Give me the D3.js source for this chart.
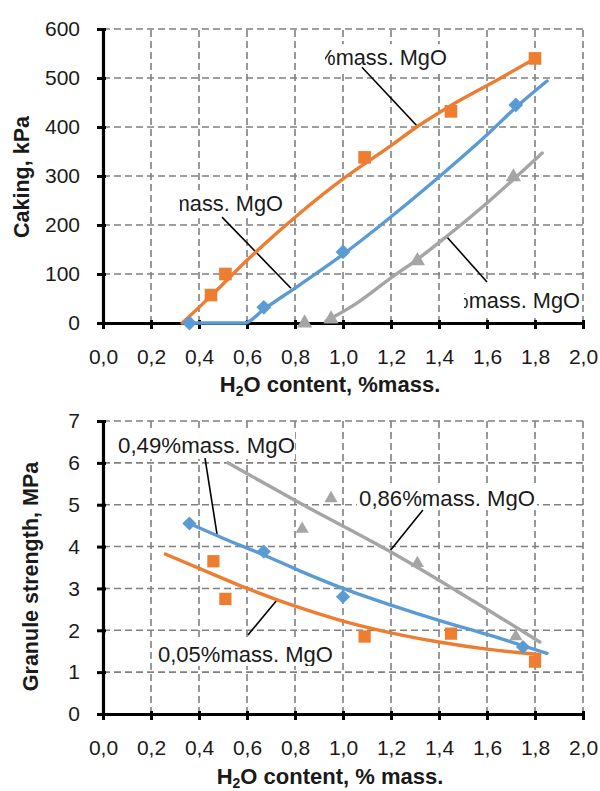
<!DOCTYPE html>
<html>
<head>
<meta charset="utf-8">
<script src="https://cdn.jsdelivr.net/npm/d3@7"></script>
<style>
  body { margin: 0; background: white; }
  text { font-family: "Liberation Sans", Arial, sans-serif; fill: #1a1a1a; }
</style>
</head>
<body>
<div id="chart"></div>
<script>
'use strict';

// ticks shared by both panels
const xTicks = [0, 0.2, 0.4, 0.6, 0.8, 1.0, 1.2, 1.4, 1.6, 1.8, 2.0];
const cakingTicks = [0, 100, 200, 300, 400, 500, 600];
const strengthTicks = [0, 1, 2, 3, 4, 5, 6, 7];

const mgoLabels = ['0,05%mass. MgO', '0,49%mass. MgO', '0,86%mass. MgO'];

// caking, kPa - measured points
const cakingX005 = [0.45, 0.51, 1.09, 1.45, 1.80];
const cakingY005 = [57, 100, 338, 432, 540];
const cakingX049 = [0.36, 0.67, 1.00, 1.72];
const cakingY049 = [0, 32, 145, 445];
const cakingX086 = [0.84, 0.95, 1.31, 1.71];
const cakingY086 = [0, 8, 127, 298];

// caking trend lines
const cakingTrend005 = [[0.33, 0], [0.46, 60], [0.6, 128], [0.82, 224], [1.0, 294],
  [1.2, 362], [1.31, 401], [1.45, 444], [1.65, 498], [1.8, 540]];
const cakingTrend049 = [[0.36, 0], [0.59, 0], [0.67, 28], [0.82, 78], [1.0, 140],
  [1.15, 197], [1.4, 298], [1.6, 384], [1.72, 440], [1.85, 494]];
const cakingTrend086 = [[0.93, 4], [1.05, 38], [1.2, 92], [1.31, 130], [1.43, 176],
  [1.6, 245], [1.71, 293], [1.83, 347]];

// granule strength, MPa - measured points
const strengthX005 = [0.46, 0.51, 1.09, 1.45, 1.80];
const strengthY005 = [3.65, 2.75, 1.85, 1.92, 1.25];
const strengthX049 = [0.36, 0.67, 1.00, 1.75];
const strengthY049 = [4.55, 3.88, 2.80, 1.60];
const strengthX086 = [0.83, 0.95, 1.31, 1.72];
const strengthY086 = [4.42, 5.15, 3.60, 1.85];

// granule strength trend lines
const strengthTrend005 = [[0.26, 3.82], [0.45, 3.36], [0.6, 3.0], [0.72, 2.74], [0.82, 2.54],
  [1.0, 2.22], [1.2, 1.94], [1.4, 1.72], [1.6, 1.55], [1.82, 1.42]];
const strengthTrend049 = [[0.36, 4.55], [0.5, 4.2], [0.67, 3.8], [0.82, 3.42], [1.0, 3.0],
  [1.2, 2.6], [1.42, 2.2], [1.6, 1.9], [1.85, 1.45]];
const strengthTrend086 = [[0.52, 6.0], [0.82, 5.04], [1.2, 3.87], [1.5, 2.85], [1.82, 1.72]];

const colors = ['#ED7D31', '#5B9BD5', '#A5A5A5'];
const shapes = ['square', 'diamond', 'triangle'];

const width = 600, height = 791;
const svg = d3.select('#chart').append('svg')
  .attr('width', width).attr('height', height);
svg.append('rect').attr('width', width).attr('height', height).attr('fill', 'white');

function zipPoints(xs, ys) {
  return xs.map((x, i) => [x, ys[i]]);
}

function fmtX(d) {
  return d.toFixed(1).replace('.', ',');
}

function markerPath(shape, size) {
  if (shape === 'triangle') return d3.symbol(d3.symbolTriangle, size)();
  return d3.symbol(d3.symbolSquare, size)();
}

let clipCount = 0;

function drawPanel(p) {
  const x = d3.scaleLinear().domain([0, 2]).range([103, 583]);
  const yMax = p.yTicks[p.yTicks.length - 1];
  const y = d3.scaleLinear().domain([0, yMax]).range([p.bottom, p.top]);
  const g = svg.append('g');

  // dashed grid, including the top and right border
  const grid = g.append('g')
    .attr('stroke', '#808080').attr('stroke-width', 1.6)
    .attr('stroke-dasharray', '7,4');
  grid.selectAll('line.v').data(xTicks.slice(1)).join('line').attr('class', 'v')
    .attr('x1', d => x(d)).attr('x2', d => x(d))
    .attr('y1', y(0)).attr('y2', y(yMax));
  grid.selectAll('line.h').data(p.yTicks.slice(1)).join('line').attr('class', 'h')
    .attr('x1', x(0)).attr('x2', x(2))
    .attr('y1', d => y(d)).attr('y2', d => y(d));

  // axes
  const yAxis = g.append('g').attr('transform', 'translate(' + x(0) + ',0)')
    .call(d3.axisLeft(y).tickValues(p.yTicks).tickFormat(d3.format('d'))
      .tickSize(6).tickSizeOuter(0).tickPadding(17));
  yAxis.selectAll('.tick line').attr('x1', 3);
  const xAxis = g.append('g').attr('transform', 'translate(0,' + y(0) + ')')
    .call(d3.axisBottom(x).tickValues(xTicks).tickFormat(fmtX)
      .tickSize(6).tickSizeOuter(0).tickPadding(20));
  xAxis.selectAll('.tick line').attr('y1', -3);
  [xAxis, yAxis].forEach(a => {
    a.select('.domain').attr('stroke', 'black').attr('stroke-width', 3.2);
    a.selectAll('.tick line').attr('stroke', 'black').attr('stroke-width', 3);
    a.selectAll('.tick text').attr('font-size', 21).attr('fill', '#1a1a1a')
      .style('font-family', '"Liberation Sans", Arial, sans-serif');
  });

  // axis titles
  const yMid = (y(0) + y(yMax)) / 2 + p.yTitleShift;
  g.append('text')
    .attr('transform', 'translate(' + p.yTitleX + ',' + yMid + ') rotate(-90)')
    .attr('text-anchor', 'middle').attr('font-size', 21.5).attr('font-weight', 'bold')
    .text(p.yTitle);
  const xt = g.append('text')
    .attr('x', 330).attr('y', p.xTitleY)
    .attr('text-anchor', 'middle').attr('font-size', 22).attr('font-weight', 'bold');
  xt.append('tspan').text('H');
  xt.append('tspan').attr('font-size', 14).attr('dy', 4).text('2');
  xt.append('tspan').attr('dy', -4).text(p.xTitle);

  // annotation boxes, labels and leader lines
  p.notes.forEach(n => {
    const bx0 = x(n.box[0]), bx1 = x(n.box[1]);
    const by0 = y(n.box[3]), by1 = y(n.box[2]);
    g.append('rect').attr('x', bx0).attr('y', by0)
      .attr('width', bx1 - bx0).attr('height', by1 - by0).attr('fill', 'white');
    const id = 'clip' + (clipCount++);
    g.append('clipPath').attr('id', id).append('rect')
      .attr('x', bx0).attr('y', by0).attr('width', bx1 - bx0).attr('height', by1 - by0);
    g.append('text')
      .attr('x', x(n.at[0])).attr('y', y(n.at[1]))
      .attr('text-anchor', n.anchor).attr('font-size', 22)
      .attr('textLength', n.len).attr('lengthAdjust', 'spacingAndGlyphs')
      .attr('clip-path', 'url(#' + id + ')')
      .text(mgoLabels[n.series]);
    g.append('line')
      .attr('x1', x(n.lead[0][0])).attr('y1', y(n.lead[0][1]))
      .attr('x2', x(n.lead[1][0])).attr('y2', y(n.lead[1][1]))
      .attr('stroke', 'black').attr('stroke-width', 1.6);
  });

  // trend lines
  const line = d3.line().x(d => x(d[0])).y(d => y(d[1])).curve(d3.curveMonotoneX);
  p.trends.forEach((tr, i) => {
    g.append('path').datum(tr).attr('d', line)
      .attr('fill', 'none').attr('stroke', colors[i]).attr('stroke-width', 3.4)
      .attr('stroke-linejoin', 'round').attr('stroke-linecap', 'round');
  });

  // markers
  p.points.forEach((pts, i) => {
    g.append('g').selectAll('path').data(pts).join('path')
      .attr('d', markerPath(shapes[i], p.sizes[i]))
      .attr('transform', d => 'translate(' + x(d[0]) + ',' + y(d[1]) + ')'
        + (shapes[i] === 'diamond' ? ' rotate(45)' : ''))
      .attr('fill', colors[i]);
  });
}

drawPanel({
  top: 29, bottom: 323,
  yTicks: cakingTicks,
  yTitle: 'Caking, kPa', yTitleX: 29, yTitleShift: 1,
  xTitle: 'O content, %mass.', xTitleY: 392,
  trends: [cakingTrend005, cakingTrend049, cakingTrend086],
  points: [zipPoints(cakingX005, cakingY005), zipPoints(cakingX049, cakingY049),
    zipPoints(cakingX086, cakingY086)],
  sizes: [160, 110, 100],
  notes: [
    {series: 0, at: [1.433, 526], anchor: 'end', len: 173, box: [0.925, 1.44, 512, 569],
     lead: [[1.079, 522], [1.3125, 400]]},
    {series: 1, at: [0.75, 228.6], anchor: 'end', len: 173, box: [0.32, 0.76, 214, 271],
     lead: [[0.496, 216], [0.783, 71]]},
    {series: 2, at: [1.9875, 30.6], anchor: 'end', len: 173, box: [1.504, 1.995, 10, 82],
     lead: [[1.433, 175.5], [1.6, 83.7]]},
  ],
});

drawPanel({
  top: 421, bottom: 714,
  yTicks: strengthTicks,
  yTitle: 'Granule strength, MPa', yTitleX: 38, yTitleShift: 9,
  xTitle: 'O content, % mass.', xTitleY: 784,
  trends: [strengthTrend005, strengthTrend049, strengthTrend086],
  points: [zipPoints(strengthX005, strengthY005), zipPoints(strengthX049, strengthY049),
    zipPoints(strengthX086, strengthY086)],
  sizes: [150, 100, 75],
  notes: [
    {series: 1, at: [0.0625, 6.235], anchor: 'start', len: 177, box: [0.054, 0.8, 6.09, 6.74],
     lead: [[0.425, 6.116], [0.475, 4.3]]},
    {series: 2, at: [1.067, 4.97], anchor: 'start', len: 176, box: [1.058, 1.808, 4.87, 5.49],
     lead: [[1.333, 4.873], [1.192, 3.87]]},
    {series: 0, at: [0.229, 1.242], anchor: 'start', len: 175, box: [0.221, 0.967, 1.147, 1.744],
     lead: [[0.604, 1.887], [0.725, 2.723]]},
  ],
});
</script>
</body>
</html>
